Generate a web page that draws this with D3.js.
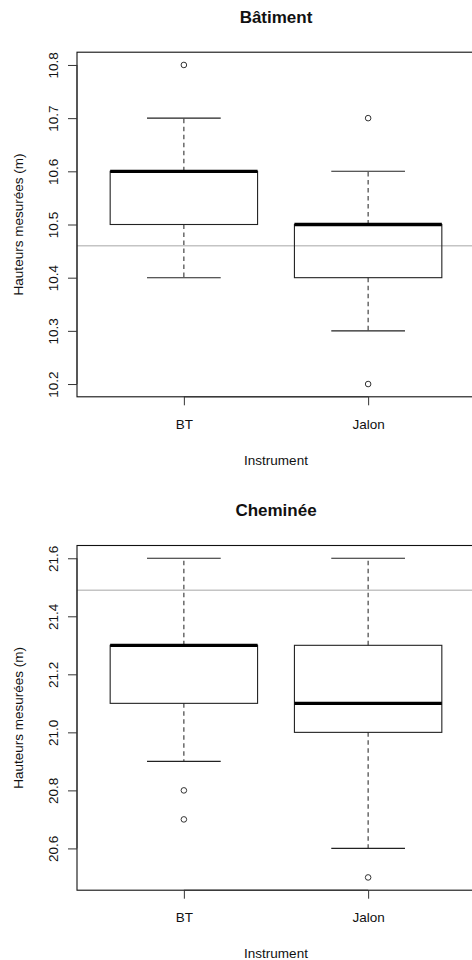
<!DOCTYPE html>
<html>
<head>
<meta charset="utf-8">
<script src="https://cdn.jsdelivr.net/npm/d3@7"></script>
<style>
  html, body { margin: 0; padding: 0; background: #fff; }
  svg { display: block; }
  text { font-family: "Liberation Sans", Arial, sans-serif; fill: #111; }
</style>
</head>
<body>
<svg id="chart" width="472" height="960"></svg>
<script>
// ---------- DATA ----------
const categories = ["BT", "Jalon"];

// Panel 1 : Bâtiment
const batTitle = "Bâtiment";
const batWhiskerLow  = [10.4, 10.3];
const batQ1          = [10.5, 10.4];
const batMedian      = [10.6, 10.5];
const batQ3          = [10.6, 10.5];
const batWhiskerHigh = [10.7, 10.6];
const batOutliers    = [[10.8], [10.7, 10.2]];
const batReference   = 10.46;
const batTicks       = [10.2, 10.3, 10.4, 10.5, 10.6, 10.7, 10.8];
const batTickLabels  = ["10.2", "10.3", "10.4", "10.5", "10.6", "10.7", "10.8"];

// Panel 2 : Cheminée
const chemTitle = "Cheminée";
const chemWhiskerLow  = [20.9, 20.6];
const chemQ1          = [21.1, 21.0];
const chemMedian      = [21.3, 21.1];
const chemQ3          = [21.3, 21.3];
const chemWhiskerHigh = [21.6, 21.6];
const chemOutliers    = [[20.8, 20.7], [20.5]];
const chemReference   = 21.49;
const chemTicks       = [20.6, 20.8, 21.0, 21.2, 21.4, 21.6];
const chemTickLabels  = ["20.6", "20.8", "21.0", "21.2", "21.4", "21.6"];

const yLabel = "Hauteurs mesurées (m)";
const xLabel = "Instrument";

// ---------- DRAW ----------
const svg = d3.select("#chart");
const left = 77, right = 475;

function panel(cfg) {
  const n = categories.length;
  const x = d3.scaleLinear().domain([0.5 - 0.08 * n / 2 * 0.5 - 0.0, n + 0.5 + 0.0]);
  // R convention: xlim c(0.5, n+0.5) extended by 4%
  const xlo = 0.5, xhi = n + 0.5, xpad = (xhi - xlo) * 0.04;
  x.domain([xlo - xpad, xhi + xpad]).range([left, right]);

  const allVals = [].concat(cfg.lo, cfg.hi, ...cfg.out);
  const ymin = d3.min(allVals), ymax = d3.max(allVals);
  const ypad = (ymax - ymin) * 0.04;
  const y = d3.scaleLinear().domain([ymin - ypad, ymax + ypad]).range([cfg.bottom, cfg.top]);

  const g = svg.append("g");

  // clip for reference line
  const clipId = "clip" + cfg.id;
  svg.append("clipPath").attr("id", clipId)
    .append("rect").attr("x", left).attr("y", cfg.top).attr("width", right - left).attr("height", cfg.bottom - cfg.top);

  // reference line
  g.append("line")
    .attr("clip-path", `url(#${clipId})`)
    .attr("x1", left).attr("x2", right)
    .attr("y1", y(cfg.ref)).attr("y2", y(cfg.ref))
    .attr("stroke", "#c4c4c4").attr("stroke-width", 1.6);

  const bw = 0.8, cw = 0.4;
  categories.forEach((c, i) => {
    const cx = x(i + 1);
    const bx0 = x(i + 1 - bw / 2), bx1 = x(i + 1 + bw / 2);
    const cx0 = x(i + 1 - cw / 2), cx1 = x(i + 1 + cw / 2);
    // dashed whiskers
    g.append("line").attr("x1", cx).attr("x2", cx)
      .attr("y1", y(cfg.q3[i])).attr("y2", y(cfg.hi[i]))
      .attr("stroke", "#333").attr("stroke-width", 1.1).attr("stroke-dasharray", "4.5,3.5");
    g.append("line").attr("x1", cx).attr("x2", cx)
      .attr("y1", y(cfg.q1[i])).attr("y2", y(cfg.lo[i]))
      .attr("stroke", "#333").attr("stroke-width", 1.1).attr("stroke-dasharray", "4.5,3.5");
    // caps
    [cfg.hi[i], cfg.lo[i]].forEach(v => {
      g.append("line").attr("x1", cx0).attr("x2", cx1)
        .attr("y1", y(v)).attr("y2", y(v))
        .attr("stroke", "#222").attr("stroke-width", 1.1);
    });
    // box
    g.append("rect").attr("x", bx0).attr("width", bx1 - bx0)
      .attr("y", y(cfg.q3[i])).attr("height", y(cfg.q1[i]) - y(cfg.q3[i]))
      .attr("fill", "none").attr("stroke", "#222").attr("stroke-width", 1.1);
    // median
    g.append("line").attr("x1", bx0).attr("x2", bx1)
      .attr("y1", y(cfg.med[i])).attr("y2", y(cfg.med[i]))
      .attr("stroke", "#000").attr("stroke-width", 3.3);
    // outliers
    cfg.out[i].forEach(v => {
      g.append("circle").attr("cx", cx).attr("cy", y(v)).attr("r", 2.8)
        .attr("fill", "none").attr("stroke", "#333").attr("stroke-width", 1);
    });
  });

  // frame
  g.append("rect").attr("x", left).attr("y", cfg.top)
    .attr("width", right - left).attr("height", cfg.bottom - cfg.top)
    .attr("fill", "none").attr("stroke", "#111").attr("stroke-width", 1.1);

  // y axis
  const ya = d3.axisLeft(y).tickValues(cfg.ticks)
    .tickFormat((d, i) => cfg.tickLabels[i]).tickSize(9).tickSizeOuter(0);
  const yg = g.append("g").attr("transform", `translate(${left},0)`).call(ya);
  yg.select(".domain").attr("stroke", "#333")
    .attr("d", `M0,${y(cfg.ticks[0])}V${y(cfg.ticks[cfg.ticks.length - 1])}`);
  yg.selectAll(".tick line").attr("stroke", "#333");
  yg.selectAll(".tick text")
    .attr("x", null).attr("dy", null)
    .attr("transform", "translate(-19,0) rotate(-90)")
    .attr("text-anchor", "middle")
    .attr("font-size", "13.5px")
    .attr("font-family", "Liberation Sans, Arial, sans-serif")
    .attr("fill", "#111");

  // x axis
  const xa = d3.axisBottom(x).tickValues(categories.map((c, i) => i + 1))
    .tickFormat((d, i) => categories[i]).tickSize(8.5).tickSizeOuter(0);
  const xg = g.append("g").attr("transform", `translate(0,${cfg.bottom})`).call(xa);
  xg.select(".domain").attr("stroke", "#333")
    .attr("d", `M${x(1)},0H${x(n)}`);
  xg.selectAll(".tick line").attr("stroke", "#333");
  xg.selectAll(".tick text")
    .attr("y", 32).attr("dy", null)
    .attr("font-size", "13.5px")
    .attr("font-family", "Liberation Sans, Arial, sans-serif")
    .attr("fill", "#111");

  // title
  g.append("text").attr("x", (left + right) / 2).attr("y", cfg.titleY)
    .attr("text-anchor", "middle").attr("font-weight", "bold")
    .attr("font-size", "17px").text(cfg.title);

  // x label
  g.append("text").attr("x", (left + right) / 2).attr("y", cfg.bottom + 68)
    .attr("text-anchor", "middle").attr("font-size", "13.5px").text(xLabel);

  // y label
  g.append("text")
    .attr("transform", `translate(23,${(cfg.top + cfg.bottom) / 2}) rotate(-90)`)
    .attr("text-anchor", "middle").attr("font-size", "13.5px").text(yLabel);
}

panel({
  id: 1, title: batTitle, titleY: 23, top: 52.2, bottom: 396.8,
  lo: batWhiskerLow, q1: batQ1, med: batMedian, q3: batQ3, hi: batWhiskerHigh,
  out: batOutliers, ref: batReference, ticks: batTicks, tickLabels: batTickLabels
});
panel({
  id: 2, title: chemTitle, titleY: 516, top: 545.5, bottom: 890.2,
  lo: chemWhiskerLow, q1: chemQ1, med: chemMedian, q3: chemQ3, hi: chemWhiskerHigh,
  out: chemOutliers, ref: chemReference, ticks: chemTicks, tickLabels: chemTickLabels
});
</script>
</body>
</html>
